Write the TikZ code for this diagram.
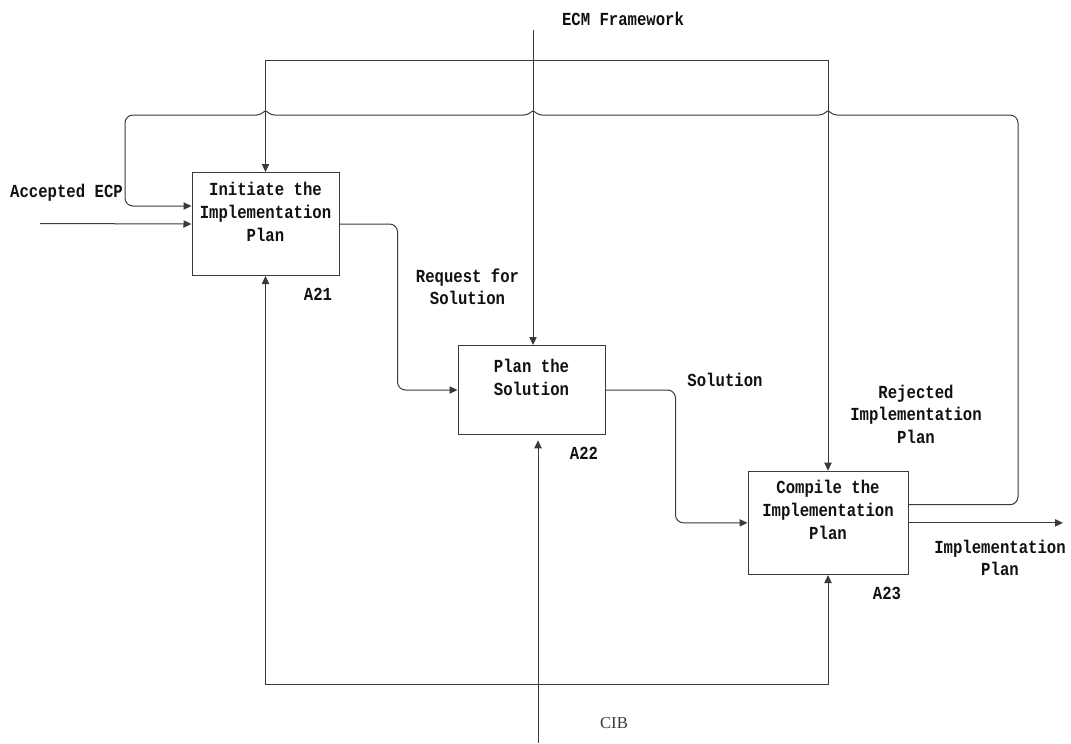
\documentclass[tikz,border=0pt]{standalone}
\usepackage{fontspec}
\newfontfamily\idefmono[FakeStretch=0.85]{Liberation Mono}
\newfontfamily\idefserif{Liberation Serif}
\usetikzlibrary{positioning, arrows.meta, calc}
\definecolor{cLine}{HTML}{3A3A3A}
\definecolor{cText}{HTML}{111111}
\tikzset{
  actbox/.style={
    draw=cLine, line width=0.75pt, inner xsep=0pt, inner ysep=0pt,
    align=center, anchor=north, text=cText,
    font=\idefmono\bfseries\fontsize{13.8}{16.9}\selectfont
  },
  boxnum/.style={
    inner sep=0pt, text=cText,
    font=\idefmono\bfseries\fontsize{13.8}{16.9}\selectfont
  },
  flowlabel/.style={
    inner sep=0pt, align=center, text=cText,
    font=\idefmono\bfseries\fontsize{13.8}{16.9}\selectfont
  },
  ciblabel/.style={
    inner sep=0pt, text=cLine, font=\idefserif\fontsize{12.5}{15}\selectfont
  },
  flowline/.style={
    -{Triangle[length=6pt, width=5.5pt]}, line width=0.75pt, draw=cLine
  },
}

\begin{document}
\begin{tikzpicture}[x=0.75pt, y=-0.75pt]
\useasboundingbox (0,0) rectangle (1071,743);

% ---- Activities ----
\node[actbox, minimum width=110.25pt, text height=51.4pt, text depth=25.85pt]
  (initbox) at (265.5,172) {Initiate the\\Implementation\\Plan};
\node[actbox, minimum width=110.25pt, text height=37.3pt, text depth=29.45pt]
  (planbox) at (531.5,345) {Plan the\\Solution};
\node[actbox, minimum width=120pt, text height=50.85pt, text depth=26.65pt]
  (compbox) at (828,470.7) {Compile the\\Implementation\\Plan};

% box numbers
\node[boxnum] (initnum) at ($(initbox.south east)+(-21.5,18)$) {A21};
\node[boxnum] (plannum) at ($(planbox.south east)+(-21.5,18)$) {A22};
\node[boxnum] (compnum) at ($(compbox.south east)+(-21.5,18)$) {A23};

% ---- Free ends ----
\coordinate (ecmtop) at (533,30);
\coordinate (ecmfork) at (533,60);
\coordinate (inleft) at (40,223.5);
\coordinate (outright) at (1063,0);
\coordinate (cibbot) at (538,743);
\coordinate (cibfork) at (538,684);

% ---- Controls ----
\draw[flowline] (ecmtop) -- (ecmtop |- planbox.north);
\draw[flowline] (ecmfork) -| (initbox.north);
\draw[flowline] (ecmfork) -| (compbox.north);

% ---- Inputs / outputs ----
\draw[flowline] (inleft) -- (initbox.west);
\draw[flowline, rounded corners=6pt] (initbox.east) -- ++(58,0) |- (planbox.west);
\draw[flowline, rounded corners=6pt] (planbox.east) -- ++(70,0) |- (compbox.west);
\draw[flowline] (compbox.east) -- (compbox.east -| outright);

% rejected plan back to A21 (hops over the controls)
\draw[flowline] ($(compbox.north east)+(0,34)$)
  [rounded corners=6pt] -| (1018,115) -- (860,115) [sharp corners]
  \foreach \hx in {828,533,265.5} {
    -- (\hx+9,115) .. controls (\hx+4,115) and (\hx+1.5,111) .. (\hx,111)
    .. controls (\hx-1.5,111) and (\hx-4,115) .. (\hx-9,115)
  }
  [rounded corners=6pt] -- (125,115) |- ($(initbox.north west)+(0,34)$);

% ---- Mechanism ----
\draw[flowline, shorten >=4pt] (cibbot) -- (cibbot |- planbox.south);
\draw[flowline] (cibfork) -| (initbox.south);
\draw[flowline] (cibfork) -| (compbox.south);

% ---- Labels ----
\node[flowlabel] (ecmlbl) at (623,19) {ECM Framework};
\node[flowlabel] (acclbl) at (66.5,193) {Accepted ECP};
\node[flowlabel] (reqlbl) at (467.5,287) {Request for\\Solution};
\node[flowlabel] (sollbl) at (725,380) {Solution};
\node[flowlabel] (rejlbl) at (916,414) {Rejected\\Implementation\\Plan};
\node[flowlabel] (outlbl) at (1000,558) {Implementation\\Plan};
\node[ciblabel] (ciblbl) at (614,723) {CIB};

\end{tikzpicture}
\end{document}
